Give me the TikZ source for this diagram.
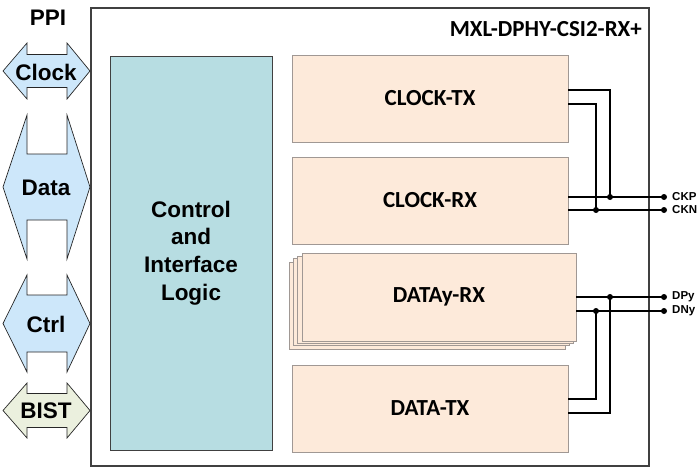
\documentclass[tikz,border=0pt]{standalone}
\usepackage{fontspec}
\setmainfont{Liberation Sans}
\newfontfamily\carlito{Carlito}
\usetikzlibrary{calc}
\definecolor{peach}{RGB}{253,234,218}
\definecolor{boxgray}{RGB}{160,152,148}
\definecolor{ctrlfill}{RGB}{183,221,226}
\definecolor{arrblue}{RGB}{205,231,250}
\definecolor{bistgreen}{RGB}{235,240,222}
\definecolor{framegray}{RGB}{64,64,64}
\begin{document}
\begin{tikzpicture}[x=1pt,y=-1pt,
  blk/.style={draw=boxgray, fill=peach, line width=0.8pt, minimum width=276pt, minimum height=87pt, inner sep=0pt,
    font=\carlito\bfseries\fontsize{23}{27}\selectfont},
  ppiarrow/.style={draw=black!85, line width=0.7pt},
  lbl/.style={font=\bfseries\fontsize{22.5}{25}\selectfont, inner sep=0pt},
  sig/.style={font=\bfseries\fontsize{11.5}{13}\selectfont, anchor=west, inner sep=0pt},
  wire/.style={draw=black, line width=1.4pt},
  dot/.style={fill=black}
]
\useasboundingbox (0,0) rectangle (700,471);
% outer frame
\draw[framegray, line width=1.4pt] (91,8) rectangle (649,466);
\node[font=\carlito\bfseries\fontsize{23}{27}\selectfont, anchor=east, inner sep=0pt] (title) at (642,29) {MXL-DPHY-CSI2-RX+};
\node[lbl] (ppi) at (48,18) {PPI};
% PPI arrows
\newcommand\dblarrow[4]{%
  \filldraw[ppiarrow, fill=#1] (3,#2) -- (27,{#2-#3}) -- (27,{#2-#4}) -- (67,{#2-#4}) -- (67,{#2-#3}) -- (90,#2)
    -- (67,{#2+#3}) -- (67,{#2+#4}) -- (27,{#2+#4}) -- (27,{#2+#3}) -- cycle;}
\dblarrow{arrblue}{71}{28}{16.5}
\dblarrow{arrblue}{187}{72}{33}
\dblarrow{arrblue}{323.5}{48.5}{28.5}
\dblarrow{bistgreen}{410.5}{27.5}{17}
\node[lbl] (clk) at (46,72) {Clock};
\node[lbl] (data) at (46,188) {Data};
\node[lbl] (ctrl) at (46,324) {Ctrl};
\node[lbl] (bist) at (46,411) {BIST};
% control block
\node[draw=framegray, fill=ctrlfill, line width=0.9pt, minimum width=162pt, minimum height=394pt, inner sep=0pt,
  align=center, font=\bfseries\fontsize{22.5}{27.6}\selectfont] (ctl) at (191,253) {Control\\and\\Interface\\Logic};
% blocks
\node[blk] (ctx) at (430,98.5) {CLOCK-TX};
\node[blk] (crx) at (430,200.5) {CLOCK-RX};
\node[blk] at (427,305.5) {};
\node[blk] at (431,302.2) {};
\node[blk] at (435,299.9) {};
\node[blk, minimum width=274pt, minimum height=88pt] (drx) at (439,297) {DATAy-RX};
\node[blk] (dtx) at (430,408.5) {DATA-TX};
% terminals
\coordinate (ckp) at (664,197);
\coordinate (ckn) at (664,210);
\coordinate (dpy) at (664,297);
\coordinate (dny) at (664,311);
\coordinate (j1) at (610,197);
\coordinate (j2) at (596,210);
\coordinate (j3) at (610,297);
\coordinate (j4) at (596,311);
% clock wires
\draw[wire] ([yshift=8.5pt]ctx.east) -| (j1);
\draw[wire] ([yshift=-5.5pt]ctx.east) -| (j2);
\draw[wire] ([yshift=3.5pt]crx.east) -- (ckp);
\draw[wire] ([yshift=-9.5pt]crx.east) -- (ckn);
% data wires
\draw[wire] (drx.east) -- (dpy);
\draw[wire] ([yshift=-14pt]drx.east) -- (dny);
\draw[wire] ([yshift=9.5pt]dtx.east) -| (j4);
\draw[wire] ([yshift=-4.5pt]dtx.east) -| (j3);
% dots
\foreach \p in {j1,j2,j3,j4,ckp,ckn,dpy,dny} \fill[dot] (\p) circle (3pt);
\node[sig] (lckp) at (672,197) {CKP};
\node[sig] (lckn) at (672,210) {CKN};
\node[sig] (ldpy) at (672,297) {DPy};
\node[sig] (ldny) at (672,311) {DNy};
\end{tikzpicture}
\end{document}
